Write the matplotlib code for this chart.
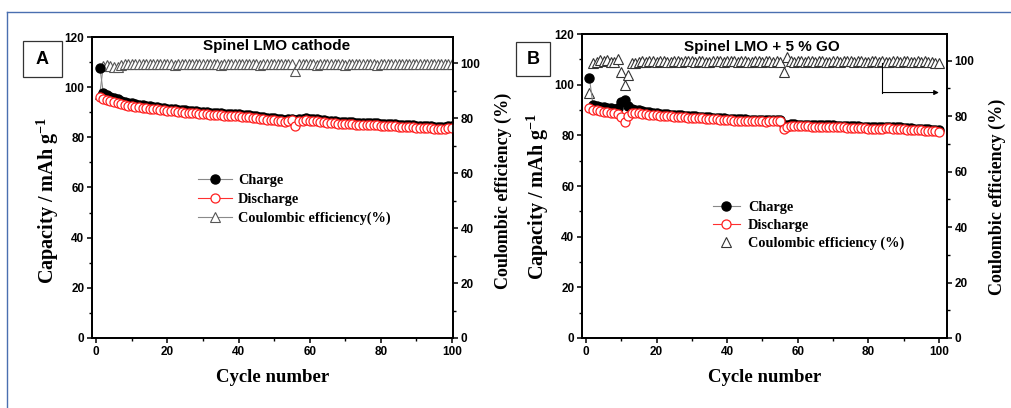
import matplotlib
matplotlib.use("Agg")
import matplotlib.pyplot as plt
from matplotlib.lines import Line2D
from matplotlib.patches import Rectangle
from matplotlib.ticker import MultipleLocator
import numpy as np

cycles = np.arange(1, 101)

# panel A: spinel LMO cathode
a_charge = [107.8, 97.6, 96.9, 96.2, 95.6, 95.1, 94.6, 94.2, 93.8, 93.5,
            93.2, 92.9, 92.7, 92.5, 92.3, 92.1, 91.9, 91.7, 91.6, 91.4,
            91.3, 91.1, 91.0, 90.9, 90.7, 90.6, 90.5, 90.4, 90.2, 90.1,
            90.0, 89.9, 89.8, 89.7, 89.6, 89.5, 89.5, 89.4, 89.3, 89.2,
            89.0, 88.9, 88.8, 88.6, 88.4, 88.3, 88.1, 87.9, 87.7, 87.6,
            87.4, 87.2, 87.1, 87.3, 87.5, 86.8, 87.3, 87.5, 87.6, 87.5,
            87.4, 87.2, 87.0, 86.8, 86.6, 86.5, 86.4, 86.3, 86.2, 86.1,
            86.1, 86.0, 85.9, 85.9, 85.8, 85.7, 85.7, 85.6, 85.6, 85.5,
            85.5, 85.4, 85.3, 85.2, 85.1, 85.0, 84.9, 84.8, 84.8, 84.7,
            84.6, 84.6, 84.5, 84.4, 84.3, 84.2, 84.1, 84.3, 84.5, 84.6]
a_discharge = [96.0, 95.3, 94.9, 94.4, 94.0, 93.6, 93.2, 92.9, 92.6, 92.4,
               92.2, 92.0, 91.8, 91.6, 91.4, 91.2, 91.1, 90.9, 90.8, 90.6,
               90.5, 90.4, 90.2, 90.1, 89.9, 89.8, 89.7, 89.6, 89.4, 89.3,
               89.2, 89.1, 89.0, 88.9, 88.8, 88.7, 88.7, 88.6, 88.5, 88.4,
               88.2, 88.1, 88.0, 87.8, 87.6, 87.5, 87.3, 87.1, 86.9, 86.8,
               86.6, 86.4, 86.3, 86.6, 86.8, 84.5, 86.5, 86.7, 86.8, 86.7,
               86.6, 86.4, 86.2, 86.0, 85.8, 85.7, 85.6, 85.5, 85.4, 85.3,
               85.3, 85.2, 85.1, 85.1, 85.0, 84.9, 84.9, 84.8, 84.8, 84.7,
               84.7, 84.6, 84.5, 84.4, 84.3, 84.2, 84.1, 84.0, 84.0, 83.9,
               83.8, 83.8, 83.7, 83.6, 83.5, 83.3, 83.2, 83.5, 83.7, 83.9]
a_ce = [89.0, 99.2, 99.4, 99.0, 98.6, 98.8, 99.5, 99.6, 99.7, 99.6,
        99.7, 99.8, 99.6, 99.7, 99.8, 99.7, 99.6, 99.8, 99.7, 99.9,
        99.6, 99.5, 99.8, 99.7, 99.6, 99.8, 99.9, 99.7, 99.8, 99.6,
        99.7, 99.8, 99.9, 99.6, 99.5, 99.7, 99.8, 99.6, 99.7, 99.8,
        99.9, 99.7, 99.6, 99.8, 99.7, 99.5, 99.6, 99.8, 99.7, 99.9,
        99.6, 99.7, 99.8, 99.9, 99.6, 97.2, 99.8, 99.6, 99.7, 99.8,
        99.7, 99.5, 99.6, 99.8, 99.9, 99.7, 99.6, 99.8, 99.7, 99.5,
        99.6, 99.8, 99.7, 99.9, 99.6, 99.7, 99.8, 99.6, 99.5, 99.7,
        99.8, 99.9, 99.6, 99.7, 99.8, 99.7, 99.6, 99.8, 99.9, 99.7,
        99.6, 99.8, 99.7, 99.9, 99.6, 99.8, 99.7, 99.9, 99.8, 99.7]

# panel B: spinel LMO + 5 % GO
b_charge = [102.6, 92.0, 91.6, 91.3, 91.0, 90.8, 90.6, 90.4, 90.6, 93.2,
            93.8, 91.4, 90.5, 90.2, 89.9, 89.6, 89.3, 89.1, 88.9, 88.7,
            88.6, 88.5, 88.3, 88.2, 88.1, 88.0, 87.9, 87.8, 87.7, 87.6,
            87.5, 87.4, 87.3, 87.2, 87.1, 87.0, 86.9, 86.8, 86.7, 86.6,
            86.5, 86.4, 86.4, 86.3, 86.3, 86.2, 86.2, 86.1, 86.1, 86.0,
            86.0, 86.1, 86.2, 86.2, 86.1, 84.0, 84.2, 84.4, 84.3, 84.2,
            84.2, 84.1, 84.1, 84.0, 84.0, 83.9, 83.9, 84.0, 84.0, 83.9,
            83.8, 83.8, 83.7, 83.6, 83.6, 83.5, 83.5, 83.4, 83.4, 83.3,
            83.3, 83.2, 83.2, 83.3, 83.4, 83.4, 83.3, 83.2, 83.1, 83.0,
            82.9, 82.8, 82.7, 82.6, 82.6, 82.5, 82.4, 82.3, 82.2, 82.0]
b_discharge = [90.6, 90.2, 90.0, 89.6, 89.4, 89.3, 89.0, 88.8, 88.6, 87.3,
               85.4, 87.6, 88.9, 89.0, 88.8, 88.6, 88.4, 88.2, 88.0, 87.9,
               87.8, 87.7, 87.6, 87.5, 87.4, 87.3, 87.2, 87.1, 87.0, 86.9,
               86.9, 86.8, 86.7, 86.6, 86.5, 86.4, 86.3, 86.2, 86.1, 86.0,
               85.9, 85.8, 85.8, 85.7, 85.7, 85.6, 85.6, 85.5, 85.5, 85.5,
               85.4, 85.5, 85.6, 85.6, 85.5, 82.6, 83.4, 83.8, 83.7, 83.6,
               83.6, 83.5, 83.5, 83.4, 83.4, 83.3, 83.3, 83.4, 83.4, 83.3,
               83.2, 83.2, 83.1, 83.0, 83.0, 82.9, 82.9, 82.8, 82.8, 82.7,
               82.7, 82.6, 82.6, 82.7, 82.8, 82.8, 82.7, 82.6, 82.5, 82.4,
               82.3, 82.2, 82.1, 82.0, 82.0, 81.9, 81.8, 81.7, 81.6, 81.4]
b_ce = [88.4, 99.0, 99.5, 100.2, 99.8, 100.3, 99.6, 99.4, 100.6, 95.8,
        91.2, 94.8, 99.0, 99.3, 99.6, 99.8, 99.5, 99.7, 99.9, 99.6,
        99.7, 99.8, 99.6, 99.5, 99.8, 99.7, 99.6, 99.8, 99.9, 99.7,
        99.6, 99.8, 99.7, 99.5, 99.6, 99.8, 99.9, 99.7, 99.6, 99.8,
        99.7, 99.9, 99.6, 99.7, 99.8, 99.6, 99.5, 99.7, 99.8, 99.6,
        99.7, 99.8, 99.6, 99.7, 99.5, 96.0, 101.2, 100.0, 99.6, 99.7,
        99.8, 99.6, 99.7, 99.9, 99.6, 99.8, 99.7, 99.5, 99.6, 99.8,
        99.7, 99.6, 99.8, 99.9, 99.7, 99.6, 99.8, 99.7, 99.6, 99.5,
        99.7, 99.8, 99.6, 99.7, 99.5, 99.6, 99.8, 99.7, 99.6, 99.8,
        99.7, 99.6, 99.5, 99.7, 99.6, 99.8, 99.5, 99.4, 99.3, 99.0]

SANS = "Liberation Sans"
SERIF = "Liberation Serif"


def style_axes(ax, ax2, left_y, right_y):
    for a in (ax, ax2):
        for s in a.spines.values():
            s.set_linewidth(1.3)
    ax.set_ylim(0, 120)
    ax.yaxis.set_major_locator(MultipleLocator(20))
    ax.yaxis.set_minor_locator(MultipleLocator(10))
    ax.xaxis.set_major_locator(MultipleLocator(20))
    ax.xaxis.set_minor_locator(MultipleLocator(10))
    ax2.set_ylim(0, 109.6)
    ax2.yaxis.set_major_locator(MultipleLocator(20))
    ax2.yaxis.set_minor_locator(MultipleLocator(10))
    for a in (ax, ax2):
        a.tick_params(which="major", direction="out", length=3.5, width=1.1, pad=2)
        a.tick_params(which="minor", direction="out", length=2.5, width=1.0)
        for lab in a.get_xticklabels() + a.get_yticklabels():
            lab.set_fontfamily(SANS)
            lab.set_fontweight("bold")
            lab.set_fontsize(8.5)
    ax.set_xlabel("Cycle number", fontfamily=SERIF, fontweight="bold", fontsize=13.5, labelpad=8)
    ax.set_ylabel("Capacity / mAh g$^{\\mathbf{-1}}$", fontfamily=SERIF, fontweight="bold",
                  fontsize=14.5, labelpad=2.5)
    ax2.set_ylabel("Coulombic efficiency (%)", fontfamily=SERIF, fontweight="bold",
                   fontsize=13, labelpad=10)
    ax.yaxis.label.set_y(left_y)
    ax2.yaxis.label.set_y(right_y)


plt.rcParams["mathtext.fontset"] = "custom"
plt.rcParams["mathtext.bf"] = "Liberation Serif:bold"
plt.rcParams["mathtext.rm"] = "Liberation Serif"

fig = plt.figure(figsize=(10.11, 4.08), dpi=100)

# ---- panel A
ax = fig.add_axes([0.0910, 0.1716, 0.3571, 0.7377])
ax2 = ax.twinx()
ax.set_xlim(-1.2, 100.3)
ce_a, = ax2.plot(cycles, a_ce, "-^", color="#8a8a8a", lw=0.8, ms=7.5,
                 mfc="white", mec="#555555", mew=0.8)
ch_a, = ax.plot(cycles, a_charge, "-o", color="#888888", lw=0.8, ms=6.5,
                mfc="black", mec="black")
dc_a, = ax.plot(cycles, a_discharge, "-o", color="#ff3030", lw=0.8, ms=6.5,
                mfc="white", mec="#ff2020", mew=0.9)
ax.set_zorder(ax2.get_zorder() + 1)
ax.patch.set_visible(False)
style_axes(ax, ax2, 0.458, 0.488)
ax.text(0.511, 0.97, "Spinel LMO cathode", transform=ax.transAxes, ha="center",
        va="center", fontfamily=SANS, fontweight="bold", fontsize=11)
ax.legend([ch_a, dc_a, ce_a], ["Charge", "Discharge", "Coulombic efficiency(%)"],
          loc="center left", bbox_to_anchor=(0.258, 0.46), frameon=False,
          prop={"family": SERIF, "weight": "bold", "size": 10.3},
          handlelength=2.4, handletextpad=0.4, labelspacing=0.4)

# ---- panel B
bx = fig.add_axes([0.5757, 0.1716, 0.3610, 0.7450])
bx2 = bx.twinx()
bx.set_xlim(-1.1, 102.3)
ce_b, = bx2.plot(cycles, b_ce, "^", ms=7.5, mfc="white", mec="#333333", mew=0.8)
ch_b, = bx.plot(cycles, b_charge, "-o", color="#888888", lw=0.8, ms=6.5,
                mfc="black", mec="black")
dc_b, = bx.plot(cycles, b_discharge, "-o", color="#ff3030", lw=0.8, ms=6.5,
                mfc="white", mec="#ff2020", mew=0.9)
bx.set_zorder(bx2.get_zorder() + 1)
bx.patch.set_visible(False)
style_axes(bx, bx2, 0.464, 0.464)
bx.text(0.493, 0.957, "Spinel LMO + 5 % GO", transform=bx.transAxes, ha="center",
        va="center", fontfamily=SANS, fontweight="bold", fontsize=11)
bx.legend([ch_b, dc_b, ce_b], ["Charge", "Discharge", "Coulombic efficiency (%)"],
          loc="center left", bbox_to_anchor=(0.323, 0.37), frameon=False,
          prop={"family": SERIF, "weight": "bold", "size": 10.3},
          handlelength=1.9, handletextpad=0.55, labelspacing=0.35)

# arrow pointing to the efficiency axis
bx2.plot([84, 84], [99.2, 88.5], color="black", lw=0.8)
bx2.annotate("", xy=(100, 88.5), xytext=(84, 88.5),
             arrowprops=dict(arrowstyle="-|>", color="black", lw=0.8,
                             mutation_scale=7, shrinkA=0, shrinkB=0))

# panel letters
for (x0, y0, w, h, letter) in [(23, 41, 39, 36, "A"), (516, 42, 34, 34, "B")]:
    fig.add_artist(Rectangle((x0 / 1011, 1 - (y0 + h) / 408), w / 1011, h / 408,
                             transform=fig.transFigure, fill=False, ec="#333333", lw=0.9))
    fig.text((x0 + w / 2) / 1011, 1 - (y0 + h / 2) / 408, letter, ha="center", va="center",
             fontfamily=SANS, fontweight="bold", fontsize=13)

# blue frame of the original figure
fig.add_artist(Line2D([7 / 1011, 1], [1 - 12 / 408] * 2, transform=fig.transFigure,
                      color="#4a6fb0", lw=1.0))
fig.add_artist(Line2D([7 / 1011] * 2, [0, 1 - 12 / 408], transform=fig.transFigure,
                      color="#4a6fb0", lw=1.0))

fig.savefig("out.png", dpi=100)
